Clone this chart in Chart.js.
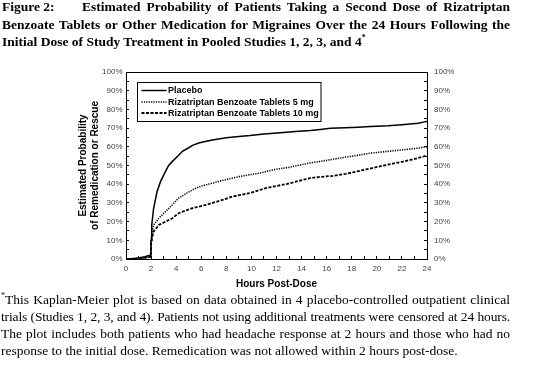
<!DOCTYPE html>
<html>
<head>
<meta charset="utf-8">
<script src="https://cdn.jsdelivr.net/npm/chart.js@4.4.1/dist/chart.umd.min.js"></script>
<style>
  html, body { margin:0; padding:0; background:#fff; }
  body { width:543px; height:369px; position:relative; overflow:hidden; }
  #chartBox { position:absolute; left:0; top:0; width:543px; height:300px; }
  .txt { position:absolute; font-family:"Liberation Serif","Times New Roman",serif; color:#000; }
  #title { left:2px; top:-2px; width:508px; font-size:13.5px; font-weight:bold; line-height:17.5px; }
  #title .ln, #foot .ln { white-space:nowrap; text-align:justify; text-align-last:justify; height:17.5px; position:relative; }
  #title .last, #foot .last { text-align:left; text-align-last:left; }
  #foot { left:1px; top:291px; width:509px; font-size:13.5px; line-height:17px; }
  #foot .ln { height:17px; }
  sup { font-size:8px; vertical-align:6px; line-height:0; }
</style>
</head>
<body>
<div id="chartBox"><canvas id="c"></canvas></div>
<div id="title" class="txt">
  <div class="ln"><span style="position:absolute;left:0;top:0;">Figure 2:</span><span style="position:absolute;left:80px;right:0;top:0;text-align:justify;text-align-last:justify;">Estimated Probability of Patients Taking a Second Dose of Rizatriptan</span></div>
  <div class="ln">Benzoate Tablets or Other Medication for Migraines Over the 24 Hours Following the</div>
  <div class="ln last">Initial Dose of Study Treatment in Pooled Studies 1, 2, 3, and 4<sup>*</sup></div>
</div>
<div id="foot" class="txt">
  <div class="ln"><sup>*</sup>This Kaplan-Meier plot is based on data obtained in 4 placebo-controlled outpatient clinical</div>
  <div class="ln" style="letter-spacing:-0.15px;">trials (Studies 1, 2, 3, and 4). Patients not using additional treatments were censored at 24 hours.</div>
  <div class="ln">The plot includes both patients who had headache response at 2 hours and those who had no</div>
  <div class="ln last">response to the initial dose. Remedication was not allowed within 2 hours post-dose.</div>
</div>
<script>
// ---- Data (hours post-dose, estimated probability %) ----
const seriesLabels = ["Placebo", "Rizatriptan Benzoate Tablets 5 mg", "Rizatriptan Benzoate Tablets 10 mg"];

const placeboHours = [0, 0.5, 1.0, 1.5, 1.98, 2.0, 2.05, 2.2, 2.48, 2.76, 3.16, 3.4, 3.7, 4.2, 4.5, 5.0, 5.3, 5.8, 6.4, 7.0, 8.0, 9.0, 9.9, 11.0, 12.3, 13.5, 14.7, 15.5, 16.3, 17.5, 18.5, 19.5, 20.9, 22.0, 23.3, 23.7, 24];
const placeboProb  = [0, 0.1, 0.6, 1.2, 2.2, 10, 18, 27, 36.1, 41.5, 47, 50, 52.2, 55.5, 57.6, 59.5, 60.8, 62, 63, 63.8, 64.8, 65.5, 66, 66.8, 67.5, 68.2, 68.7, 69.3, 69.9, 70.2, 70.5, 70.8, 71.2, 71.8, 72.6, 73.2, 73.5];

const mg5Hours = [0, 1.0, 1.5, 1.98, 2.0, 2.1, 2.2, 2.62, 3.16, 3.7, 4.2, 4.8, 5.3, 6.0, 6.9, 8.0, 9.1, 10.0, 10.7, 11.8, 13.0, 14.7, 15.5, 17.1, 18.5, 19.6, 20.5, 22.2, 23.3, 24];
const mg5Prob  = [0, 0.2, 0.6, 1.0, 10, 15, 18.2, 21.8, 25.4, 29, 32.6, 35, 37, 39, 40.6, 42.5, 44.2, 45.2, 46, 47.8, 49, 51.4, 52.2, 54, 55.5, 56.7, 57.3, 58.5, 59.3, 60];

const mg10Hours = [0, 1.0, 1.5, 1.98, 2.0, 2.1, 2.2, 2.62, 3.16, 3.7, 4.2, 5.3, 6.4, 7.46, 8.5, 9.9, 11.2, 12.8, 14.7, 15.5, 16.5, 17.5, 18.2, 19.2, 20.1, 20.9, 22.0, 23.0, 24];
const mg10Prob  = [0, 0.3, 0.7, 1.2, 8, 12, 14.7, 18.2, 20, 21.8, 24.5, 27.2, 29, 31.1, 33.4, 35.3, 38, 40.1, 43.3, 43.9, 44.5, 45.5, 46.5, 48, 49.3, 50.5, 52, 53.5, 55.3];

const xTickStep = 1;    // hours (labels every 2)
const yTickStep = 5;    // percent (labels every 10)

const toPts = (xs, ys) => xs.map((x, i) => ({ x: x, y: ys[i] }));

const FONT_SANS = "'Liberation Sans', Arial, sans-serif";

const legendBoxPlugin = {
  id: 'legendBox',
  afterDatasetsDraw(chart) {
    const ctx = chart.ctx;
    const ca = chart.chartArea;
    ctx.save();
    // top border of plot frame
    ctx.strokeStyle = '#000';
    ctx.lineWidth = 1;
    ctx.beginPath();
    ctx.moveTo(ca.left, Math.round(ca.top) + 0.5);
    ctx.lineTo(ca.right, Math.round(ca.top) + 0.5);
    ctx.stroke();
    // legend box
    const bx = 137.5, by = 82.5, bw = 183.5, bh = 39;
    ctx.fillStyle = '#fff';
    ctx.fillRect(bx, by, bw, bh);
    ctx.strokeRect(bx, by, bw, bh);
    const ys = [90.5, 102, 113];
    ctx.font = "bold 9px " + FONT_SANS;
    ctx.textBaseline = 'middle';
    chart.data.datasets.forEach((ds, i) => {
      ctx.strokeStyle = ds.borderColor;
      ctx.lineWidth = ds.borderWidth;
      ctx.setLineDash(ds.borderDash || []);
      ctx.beginPath();
      ctx.moveTo(141.5, ys[i]);
      ctx.lineTo(166.5, ys[i]);
      ctx.stroke();
      ctx.setLineDash([]);
      ctx.fillStyle = '#000';
      ctx.fillText(ds.label, 168, ys[i] + 0.5);
    });
    ctx.restore();
  }
};

const tickFont = { family: FONT_SANS, size: 8 };
const titleFont = { family: FONT_SANS, size: 10, weight: 'bold', lineHeight: 1.2 };

new Chart(document.getElementById('c'), {
  type: 'line',
  data: {
    datasets: [
      { label: seriesLabels[0], data: toPts(placeboHours, placeboProb), borderColor: '#000', borderWidth: 1.5, borderDash: [], pointRadius: 0, tension: 0, fill: false },
      { label: seriesLabels[1], data: toPts(mg5Hours, mg5Prob), borderColor: '#000', borderWidth: 1.6, borderDash: [1.2, 1.2], pointRadius: 0, tension: 0, fill: false },
      { label: seriesLabels[2], data: toPts(mg10Hours, mg10Prob), borderColor: '#000', borderWidth: 1.8, borderDash: [3, 1.5], pointRadius: 0, tension: 0, fill: false }
    ]
  },
  options: {
    responsive: true,
    maintainAspectRatio: false,
    animation: false,
    devicePixelRatio: 1,
    layout: { padding: { top: 72, left: 0, right: 0, bottom: 0 } },
    plugins: { legend: { display: false }, tooltip: { enabled: false }, title: { display: false } },
    scales: {
      x: {
        type: 'linear', position: 'bottom', min: 0, max: 24,
        afterFit(s) { s.height = 41; },
        border: { display: true, color: '#000', width: 1 },
        grid: { drawOnChartArea: false, drawTicks: true, tickLength: -3, color: '#000', lineWidth: 1 },
        ticks: { stepSize: xTickStep, autoSkip: false, maxRotation: 0, padding: 8, color: '#444', font: tickFont,
                 callback: v => (v % 2 === 0 ? String(v) : '') },
        title: { display: true, text: 'Hours Post-Dose', color: '#000', font: titleFont, padding: { top: 0, bottom: 10 } }
      },
      y: {
        type: 'linear', position: 'left', min: 0, max: 100,
        afterFit(s) { s.width = 126; },
        border: { display: true, color: '#000', width: 1 },
        grid: { drawOnChartArea: false, drawTicks: true, tickLength: -3, color: '#000', lineWidth: 1 },
        ticks: { stepSize: yTickStep, autoSkip: false, padding: 6.5, color: '#444', font: tickFont,
                 callback: v => (v % 10 === 0 ? v + '%' : '') },
        title: { display: true, text: ['Estimated Probability', 'of Remedication or Rescue'], color: '#000', font: titleFont, padding: { top: 77.5, bottom: 0 } }
      },
      y2: {
        type: 'linear', position: 'right', min: 0, max: 100,
        afterFit(s) { s.width = 116; },
        border: { display: true, color: '#000', width: 1 },
        grid: { drawOnChartArea: false, drawTicks: true, tickLength: -3, color: '#000', lineWidth: 1 },
        ticks: { stepSize: yTickStep, autoSkip: false, padding: 10, color: '#444', font: tickFont,
                 callback: v => (v % 10 === 0 ? v + '%' : '') }
      }
    }
  },
  plugins: [legendBoxPlugin]
});
</script>
</body>
</html>
